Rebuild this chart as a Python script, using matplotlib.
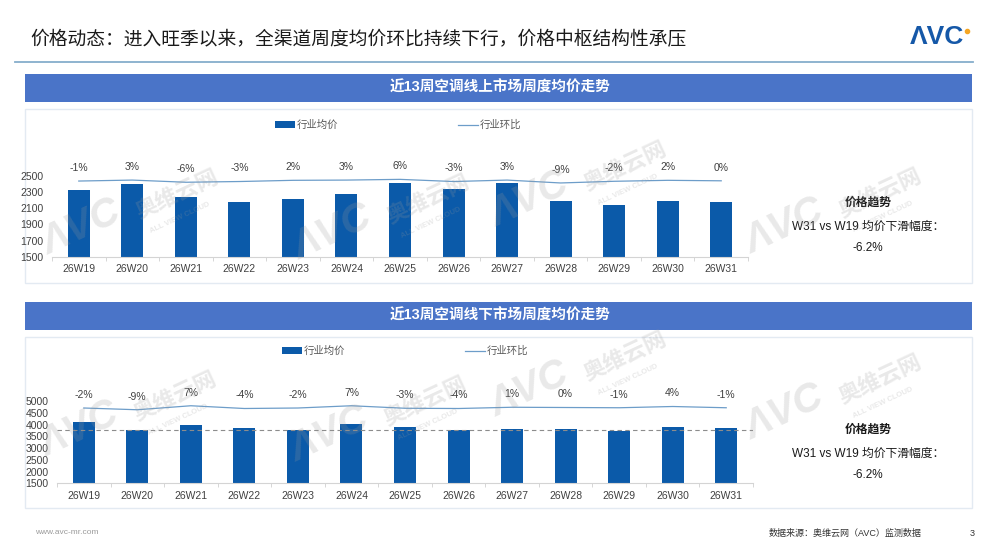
import numpy as np
import matplotlib
matplotlib.use("Agg")
import matplotlib.pyplot as plt
from matplotlib.patches import Rectangle, Patch
from matplotlib.lines import Line2D

plt.rcParams['font.family'] = ['Liberation Sans', 'Noto Sans CJK SC', 'DejaVu Sans']

# 数据
weeks = ['26W19', '26W20', '26W21', '26W22', '26W23', '26W24', '26W25',
         '26W26', '26W27', '26W28', '26W29', '26W30', '26W31']
online_price = [2326, 2400, 2243, 2177, 2214, 2276, 2413, 2338, 2417, 2194, 2140, 2190, 2182]
online_mom = [-1, 3, -6, -3, 2, 3, 6, -3, 3, -9, -2, 2, 0]
offline_price = [4120, 3781, 3979, 3866, 3781, 4022, 3908, 3781, 3823, 3823, 3738, 3908, 3865]
offline_mom = [-2, -9, 7, -4, -2, 7, -3, -4, 1, 0, -1, 4, -1]
offline_ref = 3760
online_yticks = [1500, 1700, 1900, 2100, 2300, 2500]
offline_yticks = [1500, 2000, 2500, 3000, 3500, 4000, 4500, 5000]

BAR = '#0b5aa9'
LINE = '#6d9dc9'
BANNER = '#4a74c8'
TXT = '#404040'

W, H = 1000, 557
fig = plt.figure(figsize=(10, 5.57), dpi=100)


def box(x0, y0, x1, y1):
    # 像素坐标(左上为原点) -> figure 坐标
    return [x0 / W, 1 - y1 / H, (x1 - x0) / W, (y1 - y0) / H]


bg = fig.add_axes([0, 0, 1, 1], zorder=-1)
bg.set_xlim(0, W)
bg.set_ylim(H, 0)
bg.axis('off')

# 标题
bg.text(30, 40, '价格动态：进入旺季以来，全渠道周度均价环比持续下行，价格中枢结构性承压',
        fontsize=13.5, color='#1a1a1a', va='center', ha='left')
bg.plot([15, 973], [62, 62], color='#86aecb', lw=1.3)
bg.text(937, 37, 'ΛVC', fontsize=19, fontweight='heavy', color='#1558a8',
        ha='center', va='center')
bg.plot(967, 31, 'o', color='#f5a623', ms=3)

# 面板和标题条
for y0, y1, title in [(74, 102, '近13周空调线上市场周度均价走势'),
                      (302, 330, '近13周空调线下市场周度均价走势')]:
    bg.add_patch(Rectangle((25, y0), 947, y1 - y0, color=BANNER, lw=0))
    bg.text(500, (y0 + y1) / 2, title, color='white', fontsize=10.5,
            fontweight='bold', ha='center', va='center')
for y0, y1 in [(109, 283), (337, 508)]:
    bg.add_patch(Rectangle((25, y0), 947, y1 - y0, facecolor='white',
                           edgecolor='#e3eaf2', lw=1))

# 页脚
bg.text(35, 533, 'www.avc-mr.com', fontsize=6, color='#9a9a9a', va='center')
bg.text(922, 533, '数据来源：奥维云网（AVC）监测数据', fontsize=6.5, color='#333333',
        va='center', ha='right')
bg.text(975, 533, '3', fontsize=6.5, color='#333333', va='center', ha='right')


def draw_panel(rect, prices, mom, yticks, mom_lim, legend_xy, side_y, ref=None):
    n = len(prices)
    x = np.arange(n)
    ax = fig.add_axes(box(*rect))
    ax.patch.set_alpha(0)
    ax.bar(x, prices, width=0.41, color=BAR, zorder=2)
    if ref is not None:
        ax.axhline(ref, color='#8c8c8c', lw=0.8, ls=(0, (4, 3)), zorder=3)
    ax.set_xlim(-0.5, n - 0.5)
    ax.set_ylim(yticks[0], yticks[-1])
    ax.set_yticks(yticks)
    ax.set_xticks(x)
    ax.set_xticklabels(weeks)
    ax.set_xticks(np.arange(-0.5, n), minor=True)
    ax.tick_params(axis='y', length=0, labelsize=7.5, colors=TXT, pad=6)
    ax.tick_params(axis='x', which='major', length=0, labelsize=7.5, colors=TXT, pad=5.5)
    ax.tick_params(axis='x', which='minor', length=3, color='#d0d0d0')
    for s in ['top', 'right', 'left']:
        ax.spines[s].set_visible(False)
    ax.spines['bottom'].set_color('#d4d4d4')

    ax2 = ax.twinx()
    ax2.plot(x, mom, color=LINE, lw=0.9)
    ax2.set_ylim(*mom_lim)
    ax2.axis('off')
    for i, v in enumerate(mom):
        ax2.annotate(f'{v}%', (i, v), xytext=(0, 9.4), textcoords='offset points',
                     ha='center', va='center', fontsize=7.5, color=TXT,
                     annotation_clip=False)

    handles = [Patch(facecolor=BAR), Line2D([], [], color=LINE, lw=0.9)]
    ax.legend(handles, ['行业均价', '行业环比'], loc='center',
              bbox_to_anchor=(legend_xy[0] / W, 1 - legend_xy[1] / H),
              bbox_transform=fig.transFigure, ncol=2, frameon=False,
              fontsize=7.5, labelcolor='#595959', handlelength=1.9,
              handleheight=0.6, handletextpad=0.15, columnspacing=11.5)

    drop = (prices[-1] / prices[0] - 1) * 100
    bg.text(868, side_y, '价格趋势', fontsize=8.5, fontweight='bold',
            color='#1a1a1a', ha='center', va='center')
    bg.text(868, side_y + 24, 'W31 vs W19 均价下滑幅度：', fontsize=8.5,
            color='#1a1a1a', ha='center', va='center')
    bg.text(868, side_y + 45, f'{drop:.1f}%', fontsize=8.5,
            color='#1a1a1a', ha='center', va='center')


draw_panel((52, 176, 748, 256.7), online_price, online_mom, online_yticks,
           (-316, 20), (398, 125), 203)
draw_panel((57, 401, 753, 483.3), offline_price, offline_mom, offline_yticks,
           (-303, 26), (405, 351), 430, ref=offline_ref)

# 水印
wm = fig.add_axes([0, 0, 1, 1], zorder=10)
wm.set_xlim(0, W)
wm.set_ylim(H, 0)
wm.axis('off')
marks = [(82, 228), (333, 233), (530, 200), (785, 227),
         (80, 430), (330, 435), (530, 390), (785, 413)]
for mx, my in marks:
    wm.text(mx, my, 'ΛVC', fontsize=29, fontweight='heavy', style='italic',
            color='#9a9a9a', alpha=0.22, rotation=25, ha='center', va='center')
    wm.text(mx + 95, my - 33, '奥维云网', fontsize=16, fontweight='bold',
            color='#9a9a9a', alpha=0.22, rotation=25, ha='center', va='center')
    wm.text(mx + 98, my - 10, 'ALL VIEW CLOUD', fontsize=5.5, fontweight='bold',
            color='#9a9a9a', alpha=0.22, rotation=25, ha='center', va='center')

fig.savefig('out.png', dpi=100)
